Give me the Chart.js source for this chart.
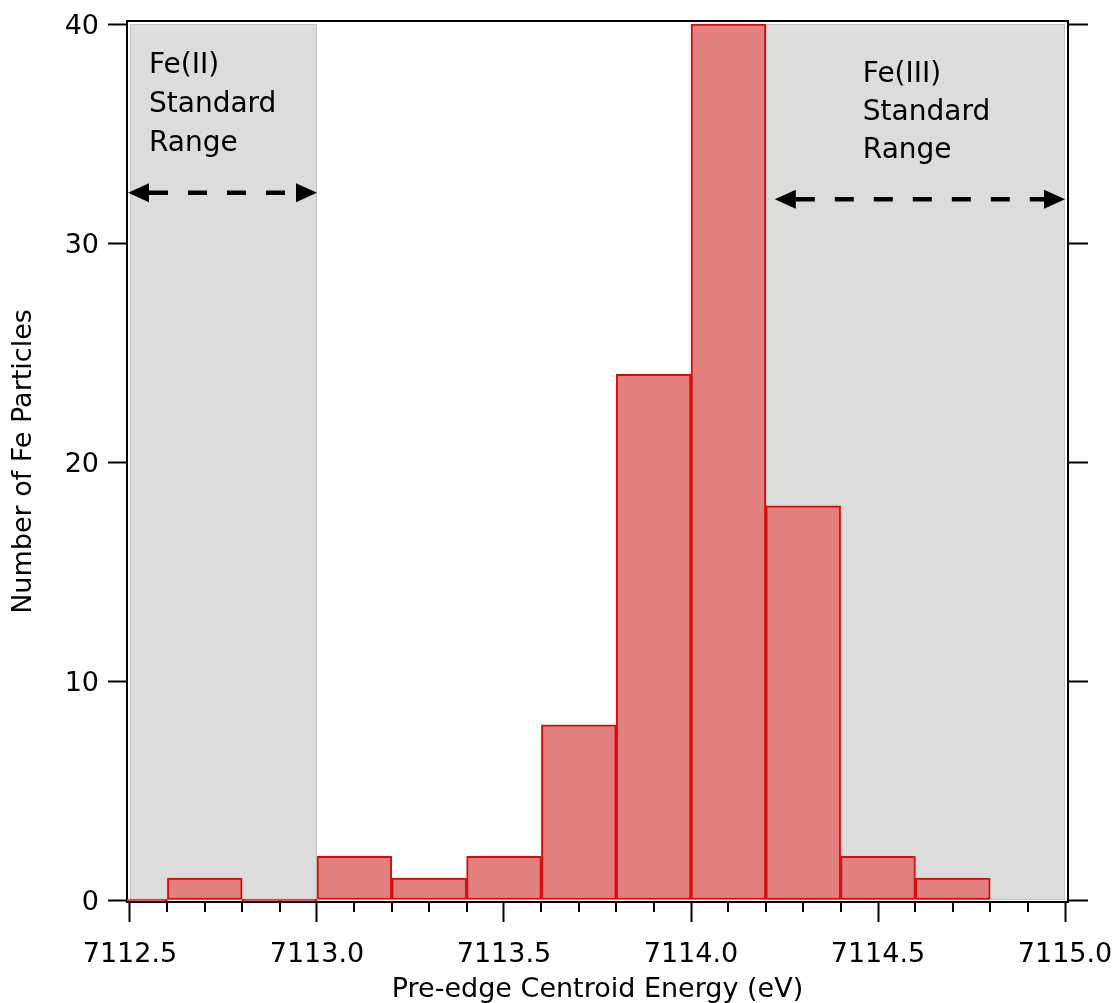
<!DOCTYPE html>
<html>
<head>
<meta charset="utf-8">
<script src="https://cdn.jsdelivr.net/npm/chart.js@4.4.1/dist/chart.umd.min.js"></script>
<style>
  html, body { margin: 0; padding: 0; background: #fff; }
  #wrap { width: 1120px; height: 1003px; }
</style>
</head>
<body>
<div id="wrap"><canvas id="hist" width="1120" height="1003"></canvas></div>
<script>
// --- Data ---
const binCenters = [7112.5, 7112.7, 7112.9, 7113.1, 7113.3, 7113.5, 7113.7, 7113.9, 7114.1, 7114.3, 7114.5, 7114.7];
const particleCounts = [0, 1, 0, 2, 1, 2, 8, 24, 40, 18, 2, 1];
const xMajorTicks = [7112.5, 7113.0, 7113.5, 7114.0, 7114.5, 7115.0];
const xMinorTicks = [7112.6, 7112.7, 7112.8, 7112.9, 7113.1, 7113.2, 7113.3, 7113.4,
                     7113.6, 7113.7, 7113.8, 7113.9, 7114.1, 7114.2, 7114.3, 7114.4,
                     7114.6, 7114.7, 7114.8, 7114.9];
const yTicks = [0, 10, 20, 30, 40];
const fe2Range = [7112.5, 7113.0];
const fe3Range = [7114.2, 7115.0];
const fe2Label = ['Fe(II)', 'Standard', 'Range'];
const fe3Label = ['Fe(III)', 'Standard', 'Range'];

const FONT = '"DejaVu Sans", Verdana, sans-serif';

// gray standard-range boxes behind the bars
const rangeBoxes = {
    id: 'rangeBoxes',
    beforeDatasetsDraw(chart) {
        const { ctx, scales: { x, y } } = chart;
        ctx.save();
        [fe2Range, fe3Range].forEach(r => {
            const l = x.getPixelForValue(r[0]), rt = x.getPixelForValue(r[1]);
            const t = y.getPixelForValue(40), b = y.getPixelForValue(0);
            ctx.fillStyle = '#dcdcdc';
            ctx.fillRect(l, t, rt - l, b - t);
            ctx.strokeStyle = '#c4c4c4';
            ctx.lineWidth = 1;
            ctx.strokeRect(l + 0.5, t + 0.5, rt - l - 1, b - t - 1);
        });
        ctx.restore();
    }
};

function drawArrow(ctx, x1, x2, yPix) {
    const head = 21, half = 9.5;
    ctx.save();
    ctx.fillStyle = '#000';
    ctx.strokeStyle = '#000';
    ctx.lineWidth = 4.5;
    ctx.setLineDash([19, 20]);
    ctx.beginPath();
    ctx.moveTo(x1 + head, yPix);
    ctx.lineTo(x2 - head, yPix);
    ctx.stroke();
    ctx.setLineDash([]);
    ctx.beginPath();
    ctx.moveTo(x1, yPix);
    ctx.lineTo(x1 + head, yPix - half);
    ctx.lineTo(x1 + head, yPix + half);
    ctx.closePath();
    ctx.fill();
    ctx.beginPath();
    ctx.moveTo(x2, yPix);
    ctx.lineTo(x2 - head, yPix - half);
    ctx.lineTo(x2 - head, yPix + half);
    ctx.closePath();
    ctx.fill();
    ctx.restore();
}

// labels, arrows, frame and minor ticks on top
const overlays = {
    id: 'overlays',
    afterDraw(chart) {
        const { ctx, chartArea, scales: { x, y } } = chart;
        ctx.save();

        // top frame line
        ctx.strokeStyle = '#000';
        ctx.lineWidth = 2;
        ctx.beginPath();
        ctx.moveTo(chartArea.left - 1, chartArea.top);
        ctx.lineTo(chartArea.right + 1, chartArea.top);
        ctx.stroke();

        // minor x ticks
        ctx.lineWidth = 2;
        xMinorTicks.forEach(v => {
            const px = Math.round(x.getPixelForValue(v));
            ctx.beginPath();
            ctx.moveTo(px, chartArea.bottom);
            ctx.lineTo(px, chartArea.bottom + 10);
            ctx.stroke();
        });

        // range labels
        ctx.fillStyle = '#000';
        ctx.font = '28px ' + FONT;
        ctx.textBaseline = 'alphabetic';
        ctx.textAlign = 'left';
        const top40 = y.getPixelForValue(40);
        fe2Label.forEach((s, i) => {
            ctx.fillText(s, x.getPixelForValue(fe2Range[0]) + 19, top40 + 49 + i * 39);
        });
        fe3Label.forEach((s, i) => {
            ctx.fillText(s, x.getPixelForValue(fe3Range[0]) + 97, top40 + 58 + i * 38);
        });
        ctx.restore();

        drawArrow(ctx, x.getPixelForValue(fe2Range[0]) - 2, x.getPixelForValue(fe2Range[1]), y.getPixelForValue(32.3));
        drawArrow(ctx, x.getPixelForValue(fe3Range[0]) + 9, x.getPixelForValue(fe3Range[1]), y.getPixelForValue(32.0));
    }
};

const axisBorder = { display: true, color: '#000', width: 2 };

// keep chart area fixed: no label overflow padding
function noPad(s) {
    s.paddingLeft = 0; s.paddingRight = 0; s.paddingTop = 0; s.paddingBottom = 0;
}

new Chart(document.getElementById('hist'), {
    type: 'bar',
    data: {
        datasets: [{
            data: binCenters.map((c, i) => ({ x: c, y: particleCounts[i] })),
            backgroundColor: '#e38080',
            borderColor: '#d80c0c',
            borderWidth: 2,
            borderSkipped: false,
            minBarLength: 2,
            barPercentage: 1,
            categoryPercentage: 1
        }]
    },
    options: {
        responsive: false,
        animation: false,
        devicePixelRatio: 1,
        layout: { padding: { top: 21, left: 0, right: 0, bottom: 0 } },
        plugins: { legend: { display: false }, tooltip: { enabled: false } },
        scales: {
            x: {
                type: 'linear',
                position: 'bottom',
                offset: false,
                min: 7112.492,
                max: 7115.008,
                afterBuildTicks: s => { s.ticks = xMajorTicks.map(v => ({ value: v })); },
                afterFit: s => { s.height = 101; noPad(s); },
                ticks: {
                    callback: v => v.toFixed(1),
                    color: '#000',
                    font: { family: FONT, size: 27 },
                    padding: 17,
                    maxRotation: 0,
                    autoSkip: false
                },
                grid: { offset: false, drawOnChartArea: false, drawTicks: true, tickLength: 20, tickColor: '#000', tickWidth: 2 },
                border: axisBorder,
                title: {
                    display: true,
                    text: 'Pre-edge Centroid Energy (eV)',
                    color: '#000',
                    font: { family: FONT, size: 27, lineHeight: 1.0 },
                    padding: { top: 0, bottom: 0 }
                }
            },
            y: {
                position: 'left',
                min: -0.091,
                max: 40.137,
                afterBuildTicks: s => { s.ticks = yTicks.map(v => ({ value: v })); },
                afterFit: s => { s.width = 127; noPad(s); },
                ticks: {
                    color: '#000',
                    font: { family: FONT, size: 27 },
                    padding: 9,
                    labelOffset: 3
                },
                grid: { drawOnChartArea: false, drawTicks: true, tickLength: 19, tickColor: '#000', tickWidth: 2 },
                border: axisBorder,
                title: {
                    display: true,
                    text: 'Number of Fe Particles',
                    color: '#000',
                    font: { family: FONT, size: 27 },
                    padding: { top: 8, bottom: 0 }
                }
            },
            y2: {
                position: 'right',
                min: -0.091,
                max: 40.137,
                afterBuildTicks: s => { s.ticks = yTicks.map(v => ({ value: v })); },
                afterFit: s => { s.width = 52; noPad(s); },
                ticks: { display: false },
                grid: { drawOnChartArea: false, drawTicks: true, tickLength: 20, tickColor: '#000', tickWidth: 2 },
                border: axisBorder
            }
        }
    },
    plugins: [rangeBoxes, overlays]
});
</script>
</body>
</html>
